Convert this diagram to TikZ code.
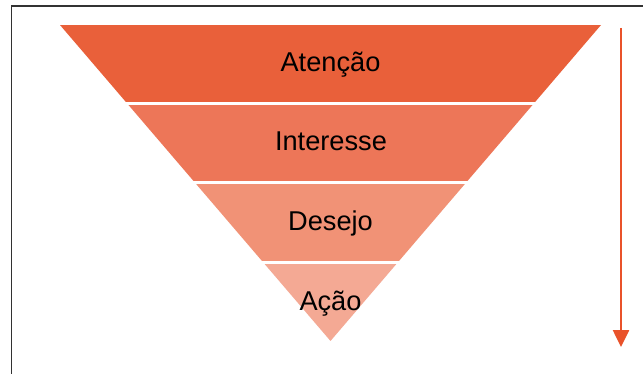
\documentclass[tikz,border=0pt]{standalone}
\usepackage{fontspec}
\setmainfont{Liberation Sans}
\usetikzlibrary{arrows.meta}
\definecolor{bandA}{RGB}{233,96,58}
\definecolor{bandB}{RGB}{237,118,88}
\definecolor{bandC}{RGB}{241,146,118}
\definecolor{bandD}{RGB}{244,169,148}
\definecolor{arrowc}{RGB}{233,82,42}
\definecolor{framec}{RGB}{50,50,50}
\tikzset{
  lbl/.style={anchor=base, inner sep=0pt, font=\fontsize{27.2pt}{31pt}\selectfont, text=black},
  framel/.style={draw=framec, line width=1.5pt},
  flow/.style={draw=arrowc, line width=2.6pt, -{Triangle[width=16pt,length=17pt]}}
}
\begin{document}
\begin{tikzpicture}[x=1pt,y=-1pt]
\useasboundingbox (0,0) rectangle (643,374);
\fill[white] (0,0) rectangle (643,374);
% frame
\draw[framel] (11.5,374) -- (11.5,6) -- (643,6);
% funnel
\begin{scope}
\clip (60,25) -- (601,25) -- (330.5,341) -- cycle;
\fill[bandA] (0,25) rectangle (643,101.75);
\fill[bandB] (0,104.75) rectangle (643,181.5);
\fill[bandC] (0,184.5) rectangle (643,261.25);
\fill[bandD] (0,264.25) rectangle (643,341);
\end{scope}
\node[lbl] (atencao) at (330.5,71.5) {Atenção};
\node[lbl] (interesse) at (331,151) {Interesse};
\node[lbl] (desejo) at (330.5,230.5) {Desejo};
\node[lbl] (acao) at (330.5,310) {Ação};
% arrow
\coordinate (atop) at (621,28);
\coordinate (abot) at (621,347);
\draw[flow] (atop) -- (abot);
\end{tikzpicture}
\end{document}
